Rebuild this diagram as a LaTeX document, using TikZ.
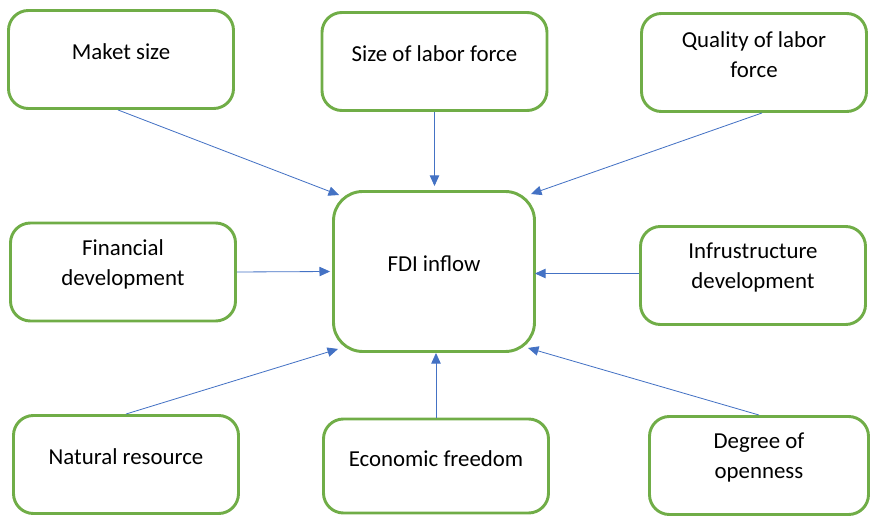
\documentclass[tikz,border=0pt]{standalone}
\usepackage{fontspec}
\setmainfont{Carlito}
\usetikzlibrary{arrows.meta,positioning,calc}
\definecolor{BoxGreen}{RGB}{112,173,71}
\definecolor{LinkBlue}{RGB}{68,114,196}
\tikzset{
  factor/.style={draw=BoxGreen,line width=2.5pt,rounded corners=17pt,
    minimum width=6.75cm,minimum height=2.94cm},
  hub/.style={draw=BoxGreen,line width=2.5pt,rounded corners=25pt,
    minimum width=6.03cm,minimum height=4.8cm},
  caption/.style={align=center,font=\fontsize{19.5}{25.6}\selectfont,yshift=6.5pt},
  link/.style={-{Triangle[length=9pt,width=8pt]},line width=0.7pt,LinkBlue}
}

\begin{document}
\begin{tikzpicture}[x=0.03cm,y=-0.03cm]
\useasboundingbox (0,0) rectangle (871,517);

% Boxes
\node[factor] (ms)  at (121,59.5)  {};
\node[factor] (slf) at (434.5,61.5) {};
\node[factor] (qlf) at (754,62.5)  {};
\node[factor] (fd)  at (123,272)   {};
\node[hub]    (fdi) at (434,271.5) {};
\node[factor] (id)  at (753,275.5) {};
\node[factor] (nr)  at (126,464.5) {};
\node[factor,minimum height=2.82cm] (ef) at (436,466) {};
\node[factor,minimum width=6.57cm] (dgo) at (759,465.5) {};

% Texts
\node[caption] (ms-t)  at (ms.center)  {Maket size};
\node[caption] (slf-t) at (slf.center) {Size of labor force};
\node[caption] (qlf-t) at (qlf.center) {Quality of labor\\force};
\node[caption] (fd-t)  at (fd.center)  {Financial\\development};
\node[caption] (fdi-t) at (fdi.center) {FDI inflow};
\node[caption] (id-t)  at (id.center)  {Infrustructure\\development};
\node[caption] (nr-t)  at (nr.center)  {Natural resource};
\node[caption] (ef-t)  at (ef.center)  {Economic freedom};
\node[caption] (dgo-t) at (dgo.center) {Degree of\\openness};

% Links
\draw[link] ($(ms.south)+(-3,0)$) -- ($(fdi.north west)+(7,5)$);
\draw[link] (slf.south) -- ($(fdi.north)+(0.5,-4)$);
\draw[link] ($(qlf.south)+(8,0)$) -- ($(fdi.north east)+(-5,4)$);
\draw[link] (fd.east) -- ($(fdi.west)+(-2,0)$);
\draw[link] ($(id.west)+(0,-2)$) -- ($(fdi.east)+(-1,2)$);
\draw[link] (nr.north) -- ($(fdi.south west)+(6,-4)$);
\draw[link] (ef.north) -- (ef.north |- fdi.south);
\draw[link] (dgo.north) -- ($(fdi.south east)+(-8,-5)$);

\end{tikzpicture}
\end{document}
